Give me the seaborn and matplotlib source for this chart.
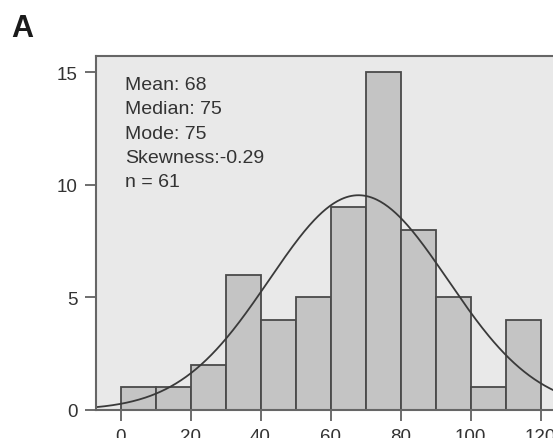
import numpy as np
import pandas as pd
import seaborn as sns
import matplotlib
matplotlib.use("Agg")
import matplotlib.pyplot as plt

# Data
bin_edges = [0, 10, 20, 30, 40, 50, 60, 70, 80, 90, 100, 110, 120]
counts = [1, 1, 2, 6, 4, 5, 9, 15, 8, 5, 1, 4]
stats_lines = ["Mean: 68", "Median: 75", "Mode: 75", "Skewness:-0.29", "n = 61"]
fit_mean = 68
fit_sd = 25.5
n_obs = 61
bin_width = 10
x_ticks = [0, 20, 40, 60, 80, 100, 120]
y_ticks = [0, 5, 10, 15]

sns.set_style("white")
plt.rcParams['font.family'] = ['Liberation Sans', 'DejaVu Sans']

centers = [(a + b) / 2 for a, b in zip(bin_edges[:-1], bin_edges[1:])]
df = pd.DataFrame({"value": centers, "count": counts})

fig = plt.figure(figsize=(5.53, 4.39), dpi=100)
ax = fig.add_axes([96 / 553, 28 / 439, 479.5 / 553, 354 / 439])
ax.set_facecolor("#e9e9e9")

sns.histplot(data=df, x="value", weights="count", bins=bin_edges, ax=ax,
             color="#c4c4c4", alpha=1, edgecolor="#4a4a4a", linewidth=1.3)

xs = np.linspace(-10, 135, 400)
pdf = n_obs * bin_width / (fit_sd * np.sqrt(2 * np.pi)) * np.exp(-0.5 * ((xs - fit_mean) / fit_sd) ** 2)
sns.lineplot(x=xs, y=pdf, ax=ax, color="#3a3a3a", linewidth=1.3)

ax.set_xlim(-7, 130)
ax.set_ylim(0, 15.73)
ax.set_xticks(x_ticks)
ax.set_yticks(y_ticks)
ax.set_xlabel("")
ax.set_ylabel("")
ax.tick_params(axis="both", direction="out", length=8, width=1.2, color="#555555",
               labelsize=13.5, labelcolor="#333333", pad=5, left=True, bottom=True)
for s in ["left", "bottom", "top", "right"]:
    ax.spines[s].set_color("#666666")
    ax.spines[s].set_linewidth(1.5)

ax.text(29 / 479.5, 1 - 20 / 354, "\n".join(stats_lines), transform=ax.transAxes, va="top", ha="left",
        fontsize=14, color="#333333", linespacing=1.56)

fig.text(11 / 553, 1 - 37 / 439, "A", fontsize=22, fontweight="bold", color="#1a1a1a")

fig.savefig("out.png", dpi=100)
